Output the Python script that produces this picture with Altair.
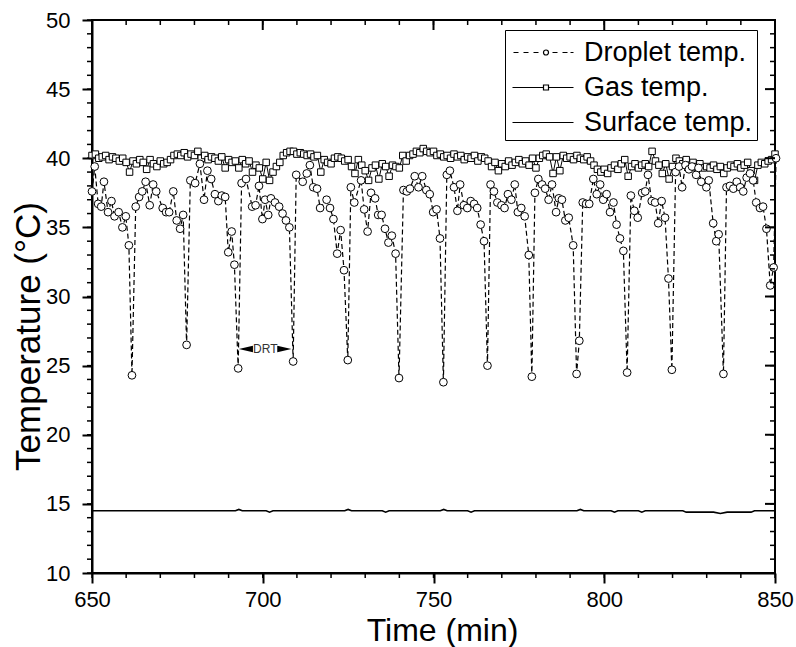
import altair as alt
import pandas as pd

# ---------------- data ----------------
drop_t = [
    650.0, 650.8, 651.8, 652.7, 653.5, 654.7, 655.7, 656.6, 657.8, 658.9, 659.9, 660.8, 661.7,
    662.8, 663.8, 664.7, 665.7, 666.9, 667.9, 668.8, 670.7, 671.7, 672.6, 673.8, 674.8, 675.8, 676.7, 677.7,
    678.8, 680.2, 681.6, 682.8, 683.8, 684.9, 686.0, 687.0, 688.0, 689.0, 689.9, 690.9, 691.7, 692.8,
    693.8, 695.1, 696.9, 697.9, 698.9, 699.9, 700.7, 701.6, 702.4, 703.6, 704.8, 705.8, 706.8, 707.8, 708.9,
    709.8, 711.7, 712.9, 713.8, 714.8, 715.9, 716.8, 718.7, 719.7, 720.7, 721.8, 722.8, 723.8, 724.9,
    725.8, 726.8, 728.8, 729.7, 730.7, 731.7, 732.9, 733.8, 734.8, 735.8, 736.8, 737.8, 738.9, 739.9,
    741.2, 742.2, 743.1, 744.5, 745.6, 746.7, 747.9, 748.9, 749.9, 750.9, 751.9, 752.9,
    753.9, 754.8, 756.0, 757.0, 757.8, 758.9, 759.9, 760.9, 761.9, 762.8, 763.8, 764.8, 765.8,
    766.7, 767.7, 768.7, 769.9, 770.8, 771.8, 772.8, 773.8, 774.7, 775.7, 776.7, 777.9, 778.8,
    779.7, 780.7, 781.8, 782.7, 783.7, 784.7, 785.9, 786.7, 787.6, 788.6, 789.6, 790.9, 791.9, 792.7,
    793.7, 794.7, 795.6, 796.8, 797.8, 798.8, 799.7, 800.7, 801.7, 802.7, 803.6, 804.6, 805.6, 806.7,
    807.8, 808.8, 809.8, 811.1, 812.0, 812.8, 813.9, 814.9, 815.8, 816.8, 817.8, 818.8, 819.8,
    820.9, 821.9, 822.8, 823.8, 824.8, 825.7, 826.9, 827.6, 828.4, 829.9, 830.6, 831.9, 832.8, 833.5, 834.9,
    835.8, 836.8, 837.8, 838.8, 839.8, 840.7, 841.7, 842.7, 843.6, 844.5, 845.6, 846.5, 847.5, 848.6, 849.6, 850.3,
]
drop_v = [
    37.6, 39.4, 36.7, 36.5, 38.3, 36.1, 36.9, 35.8, 36.1, 35.0, 35.8, 33.7, 24.3,
    36.5, 37.2, 37.6, 38.3, 36.6, 38.1, 37.6, 36.4, 36.1, 36.1, 37.6, 35.5, 34.9, 35.9, 26.5,
    38.4, 38.2, 39.6, 37.0, 39.1, 38.5, 37.4, 36.9, 37.3, 37.2, 33.2, 34.7, 32.3, 24.8,
    38.2, 38.5, 36.5, 36.6, 38.0, 35.6, 37.0, 35.9, 37.1, 36.8, 36.5, 36.0, 35.5, 35.0, 25.3,
    38.8, 38.3, 38.9, 39.5, 37.9, 37.8, 36.4, 37.0, 36.4, 35.6, 33.1, 34.8, 31.9, 25.4,
    37.9, 36.8, 38.4, 36.3, 34.7, 37.5, 37.1, 35.9, 35.9, 34.9, 33.9, 34.4, 33.1, 24.1,
    37.7, 37.6, 37.8, 38.7, 37.9, 38.7, 37.7, 37.4, 36.1, 36.3, 34.2, 23.8,
    38.8, 39.1, 37.9, 36.2, 38.1, 36.6, 36.4, 36.9, 36.7, 36.4, 35.2, 34.0, 25.0,
    38.1, 37.6, 36.8, 36.6, 36.4, 37.4, 37.0, 38.1, 36.1, 36.4, 35.8, 33.0, 24.2,
    37.5, 38.5, 38.1, 37.8, 37.0, 38.1, 36.1, 37.1, 37.0, 35.5, 35.7, 33.7, 24.4, 26.8,
    36.8, 36.7, 36.7, 38.5, 37.4, 38.1, 37.0, 37.4, 36.1, 36.8, 35.2, 34.2, 33.3, 24.5,
    37.3, 36.2, 35.7, 37.5, 37.6, 38.8, 36.9, 36.8, 35.3, 36.9, 35.7, 31.3, 24.7,
    39.0, 39.4, 37.9, 39.5, 39.2, 39.4, 38.8, 39.3, 38.3, 37.9, 38.4, 35.3, 34.0, 34.5, 24.4,
    37.9, 38.0, 37.8, 38.3, 37.9, 37.6, 38.6, 38.9, 38.4, 36.8, 36.4, 36.5, 34.9, 30.8, 32.1, 40.0,
]

gas_t = list(range(650, 851))  # one reading per minute
gas_v = [
    40.2, 40.3, 40.0, 40.1, 40.2, 39.9, 40.1, 40.0, 39.8, 40.0,
    39.7, 39.0, 39.8, 39.6, 39.9, 39.7, 39.2, 39.9, 39.6, 39.4,
    39.8, 39.6, 39.7, 39.9, 40.2, 40.3, 40.2, 40.4, 40.1, 40.3,
    40.2, 40.5, 40.0, 40.2, 39.9, 40.1, 40.0, 39.8, 40.1, 39.3,
    39.9, 39.7, 39.8, 39.3, 39.9, 39.6, 39.8, 39.0, 39.5, 39.3,
    38.5, 39.7, 38.4, 39.0, 39.4, 39.7, 40.2, 40.4, 40.5, 40.5,
    40.3, 40.4, 40.3, 40.2, 40.3, 40.1, 40.2, 39.0, 39.9, 39.7,
    39.6, 40.0, 40.1, 40.0, 39.8, 39.9, 39.4, 38.9, 39.9, 39.5,
    39.1, 38.4, 39.3, 39.5, 38.5, 39.6, 39.4, 38.7, 39.5, 39.4,
    39.3, 40.2, 39.8, 40.2, 40.3, 40.5, 40.4, 40.7, 40.5, 40.4,
    40.5, 40.2, 40.3, 40.1, 40.2, 40.0, 40.3, 40.1, 40.2, 39.9,
    40.1, 40.0, 40.2, 39.8, 40.1, 40.0, 39.8, 39.4, 39.7, 39.1,
    39.6, 39.4, 39.8, 39.5, 39.7, 39.9, 39.6, 39.8, 39.5, 40.0,
    39.3, 40.0, 40.2, 40.3, 40.1, 38.9, 40.1, 39.1, 40.2, 40.0,
    40.1, 39.9, 40.2, 40.0, 39.9, 40.1, 39.8, 39.5, 39.2, 39.0,
    39.2, 38.9, 39.3, 39.5, 39.2, 39.6, 39.9, 38.7, 39.4, 39.6,
    39.3, 39.5, 39.6, 39.4, 40.5, 39.8, 39.5, 38.9, 39.6, 38.5,
    39.4, 40.0, 39.8, 39.6, 39.9, 39.5, 39.7, 39.4, 39.6, 39.3,
    39.4, 39.3, 39.5, 39.2, 39.4, 38.9, 39.3, 39.5, 39.4, 39.6,
    39.3, 39.5, 39.7, 39.1, 38.4, 39.5, 39.7, 39.6, 39.8, 39.9,
    40.3,
]

surf_t = [650, 692, 693, 694, 701, 702, 703, 724, 725, 726, 735, 736, 737,
          752, 753, 754, 760, 761, 762, 792, 793, 794, 802, 803, 804,
          810, 811, 812, 823, 824, 832, 834, 836, 843, 844, 850]
surf_v = [14.5, 14.5, 14.6, 14.5, 14.5, 14.4, 14.5, 14.5, 14.6, 14.5, 14.5, 14.4, 14.5,
          14.5, 14.6, 14.5, 14.5, 14.4, 14.5, 14.5, 14.6, 14.5, 14.5, 14.4, 14.5,
          14.5, 14.4, 14.5, 14.5, 14.4, 14.4, 14.3, 14.4, 14.4, 14.5, 14.5]

series_names = ["Droplet temp.", "Gas temp.", "Surface temp."]

x_range = [650, 850]
y_range = [10, 50]
x_major = [650, 700, 750, 800, 850]
x_minor = [650, 660, 670, 680, 690, 700, 710, 720, 730, 740, 750,
           760, 770, 780, 790, 800, 810, 820, 830, 840, 850]
y_major = [10, 15, 20, 25, 30, 35, 40, 45, 50]
y_minor = list(range(10, 51))

# DRT annotation (times of the two bounding minima, level, label)
drt_t = [692.8, 708.9]
drt_level = 26.2
drt_label = "DRT"

# ---------------- layout constants ----------------
FONT = "Liberation Sans, Arial, sans-serif"
W, H = 683, 553
MAJ, MIN = 10, 5

# ---------------- frames ----------------
drop = pd.DataFrame({"t": drop_t, "v": drop_v})
gas = pd.DataFrame({"t": gas_t, "v": gas_v})
surf = pd.DataFrame({"t": surf_t, "v": surf_v})
legend_df = pd.DataFrame({"series": series_names})

# extra frame ticks (top/right inside, bottom/left minor outside)
frame_tick_t = ([float(t) for t in x_minor] + [float(t) for t in x_major] + [float(t) for t in x_minor]
                + [float(x_range[0])] * len(y_minor) + [float(x_range[1])] * len(y_minor)
                + [float(x_range[1])] * len(y_major))
frame_tick_v = ([float(y_range[1])] * len(x_minor) + [float(y_range[1])] * len(x_major)
                + [float(y_range[0])] * len(x_minor)
                + [float(v) for v in y_minor] + [float(v) for v in y_minor] + [float(v) for v in y_major])
frame_tick_kind = (["down_minor"] * len(x_minor) + ["down_major"] * len(x_major)
                   + ["down_minor"] * len(x_minor) + ["left_minor"] * len(y_minor)
                   + ["left_minor"] * len(y_minor) + ["left_major"] * len(y_major))
ticks_df = pd.DataFrame({"t": frame_tick_t, "v": frame_tick_v, "kind": frame_tick_kind})

span = drt_t[1] - drt_t[0]
drt_df = pd.DataFrame({
    "t": [drt_t[0] + 0.14 * span, drt_t[1] - 0.16 * span],
    "v": [drt_level, drt_level],
    "side": ["L", "R"],
})
drt_text_df = pd.DataFrame({"t": [(drt_t[0] + drt_t[1]) / 2 - 0.1], "v": [drt_level], "label": [drt_label]})

xs = alt.Scale(domain=x_range, nice=False, zero=False)
ys = alt.Scale(domain=y_range, nice=False, zero=False)

xaxis = alt.Axis(values=x_major, format="d", tickSize=MAJ, tickWidth=2, domainWidth=2,
                 labelFontSize=22, labelPadding=6, labelFlush=False,
                 title="Time (min)", titleFontSize=32, titlePadding=5, titleX=350)
yaxis = alt.Axis(values=y_major, format="d", tickSize=MAJ, tickWidth=2, domainWidth=2,
                 labelFontSize=22, labelPadding=12, labelFlush=False,
                 title="Temperature (°C)", titleFontSize=35, titleY=316, titleX=-64,
                 titleBaseline="middle", titleAngle=270)

X = alt.X("t:Q", scale=xs, axis=xaxis)
Y = alt.Y("v:Q", scale=ys, axis=yaxis)

gas_line = alt.Chart(gas).mark_line(color="black", strokeWidth=1).encode(x=X, y=Y)
gas_pts = alt.Chart(gas).mark_point(shape="square", size=42, filled=True, fill="white",
                                    stroke="black", strokeWidth=1, opacity=1).encode(x=X, y=Y)
drop_line = alt.Chart(drop).mark_line(color="black", strokeWidth=1.2,
                                      strokeDash=[5, 3]).encode(x=X, y=Y)
drop_pts = alt.Chart(drop).mark_point(shape="circle", size=60, filled=True, fill="white",
                                      stroke="black", strokeWidth=1, opacity=1).encode(x=X, y=Y)
surf_line = alt.Chart(surf).mark_line(color="black", strokeWidth=1.6).encode(x=X, y=Y)

# frame ticks as small filled bars (symbol size 400 -> 1 unit = 10 px)
tick_kinds = ["down_minor", "down_major", "left_minor", "left_major"]
tick_paths = [
    "M-0.075,0H0.075V0.5H-0.075Z",
    "M-0.1,0H0.1V1H-0.1Z",
    "M0,-0.075H-0.5V0.075H0Z",
    "M0,-0.1H-1V0.1H0Z",
]
frame_ticks = alt.Chart(ticks_df).mark_point(filled=True, color="black", size=400, opacity=1).encode(
    x=X, y=Y,
    shape=alt.Shape("kind:N", scale=alt.Scale(domain=tick_kinds, range=tick_paths), legend=None))

# DRT annotation
arrow_paths = ["M-1,0L1,-0.45L1,0.45Z", "M1,0L-1,-0.45L-1,0.45Z"]
drt_arrows = alt.Chart(drt_df).mark_point(filled=True, color="black", size=200, opacity=1).encode(
    x=X, y=Y,
    shape=alt.Shape("side:N", scale=alt.Scale(domain=["L", "R"], range=arrow_paths), legend=None))
drt_text = alt.Chart(drt_text_df).mark_text(font=FONT, fontSize=12, color="#333333").encode(
    x=X, y=Y, text="label:N")

# legend symbols (custom paths, 1 unit = 10 px)
p_drop = ("M-0.9,0H-0.4M0.1,0H0.6M1.1,0H1.6"
          "M2.6,0A0.25,0.25 0 1 1 2.1,0A0.25,0.25 0 1 1 2.6,0"
          "M3.0,0H3.5M4.0,0H4.5M4.8,0H5.1")
p_gas = "M-1,0H2.1M2.6,0H5.1M2.1,-0.25H2.6V0.25H2.1Z"
p_surf = "M-1,0H5.1"

# legend-only layer: its own marks sit far outside the canvas
legend_layer = alt.Chart(legend_df).mark_point(filled=False, color="black",
                                                strokeWidth=1.2, opacity=1).encode(
    x=alt.value(-2000), y=alt.value(-2000),
    shape=alt.Shape("series:N",
                    scale=alt.Scale(domain=series_names, range=[p_drop, p_gas, p_surf]),
                    legend=alt.Legend(title=" ", titleFontSize=5, titlePadding=0,
                                      orient="none", legendX=413, legendY=10,
                                      direction="vertical", symbolSize=400,
                                      symbolStrokeWidth=1.2, symbolOpacity=1,
                                      symbolStrokeColor="black",
                                      labelFont=FONT, labelFontSize=27, labelColor="black",
                                      labelOffset=48, labelLimit=0, rowPadding=7,
                                      padding=4, strokeColor="black", fillColor="white")))

chart = alt.layer(
    gas_line, gas_pts, drop_line, drop_pts, surf_line,
    frame_ticks, drt_arrows, drt_text, legend_layer,
).resolve_scale(shape="independent").properties(
    width=W, height=H,
    autosize=alt.AutoSizeParams(type="none"),
    padding={"left": 92, "top": 20, "right": 21, "bottom": 74},
    background="white",
).configure_view(stroke="black", strokeWidth=2).configure_axis(
    labelFont=FONT, titleFont=FONT, labelColor="black", titleColor="black",
    domainColor="black", tickColor="black", titleFontWeight="normal", grid=False,
)

chart.save("out.html", embed_options={"renderer": "svg", "actions": False})
